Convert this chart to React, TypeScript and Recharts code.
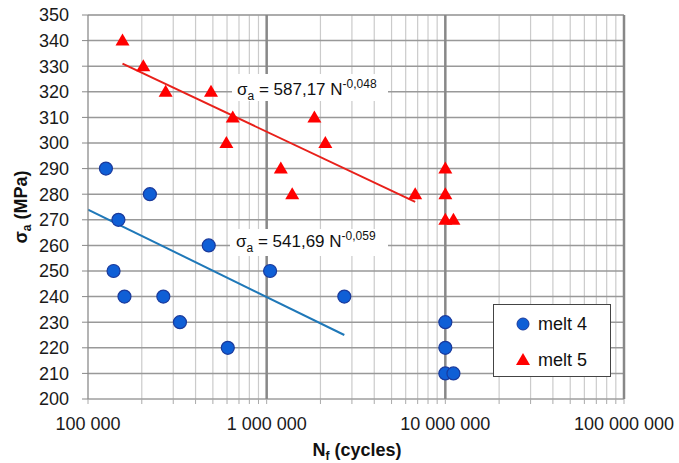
import { ComposedChart, Scatter, Line, XAxis, YAxis, ReferenceLine, CartesianGrid } from 'recharts';

// melt 4 (circles)
const melt4N = [126000, 148000, 222000, 139000, 160000, 264000, 327000, 474000, 606000, 1045000, 2720000, 10000000, 10000000, 10000000, 11100000];
const melt4S = [290, 270, 280, 250, 240, 240, 230, 260, 220, 250, 240, 230, 220, 210, 210];

// melt 5 (triangles)
const melt5N = [156000, 204000, 272000, 488000, 646000, 595000, 1200000, 1390000, 1850000, 2130000, 6780000, 10000000, 10000000, 10000000, 11100000];
const melt5S = [340, 330, 320, 320, 310, 300, 290, 280, 310, 300, 280, 290, 280, 270, 270];

// power-law trend lines (end points)
const trend4N = [100000, 2720000];
const trend4S = [274, 225];
const trend5N = [156000, 6780000];
const trend5S = [331, 277];

const xDecades = [100000, 1000000, 10000000, 100000000];
const xMinor = [2, 3, 4, 5, 6, 7, 8, 9].flatMap((k) => [k * 1e5, k * 1e6, k * 1e7]);
const yMajor = [200, 210, 220, 230, 240, 250, 260, 270, 280, 290, 300, 310, 320, 330, 340, 350];
const yFine = Array.from({ length: 76 }, (_, i) => 200 + i * 2);

const zip = (n: number[], s: number[]) => n.map((v, i) => ({ n: v, s: s[i] }));
const melt4 = zip(melt4N, melt4S);
const melt5 = zip(melt5N, melt5S);
const trend4 = zip(trend4N, trend4S);
const trend5 = zip(trend5N, trend5S);

const BLUE = '#0f5fd6';
const BLUE_EDGE = '#1a3a9c';
const RED = '#ff0000';
const FONT = 'Arial, "Liberation Sans", sans-serif';

const fmt = (v: number) => (xDecades.includes(v) ? String(v).replace(/\B(?=(\d{3})+(?!\d))/g, ' ') : '');

const Circle = (p: any) => <circle cx={p.cx} cy={p.cy} r={6.5} fill={BLUE} stroke={BLUE_EDGE} strokeWidth={1.2} />;
const Tri = (p: any) => (
  <polygon points={`${p.cx},${p.cy - 7} ${p.cx + 7},${p.cy + 5} ${p.cx - 7},${p.cy + 5}`} fill={RED} />
);

const LegendBox = () => (
  <div style={{ position: 'absolute', left: 493, top: 304, border: '1.5px solid #444', background: '#fff', width: 118, height: 73, boxSizing: 'border-box', fontFamily: FONT, fontSize: 18, color: '#111' }}>
    <div style={{ display: 'flex', alignItems: 'center', height: 36, marginTop: 1 }}>
      <svg width={44} height={20}><circle cx={29} cy={10} r={6} fill={BLUE} stroke={BLUE_EDGE} /></svg>
      <span>melt 4</span>
    </div>
    <div style={{ display: 'flex', alignItems: 'center', height: 36 }}>
      <svg width={44} height={20}><polygon points="29,3 36,15 22,15" fill={RED} /></svg>
      <span>melt 5</span>
    </div>
  </div>
);

export default function App() {
  return (
    <div style={{ position: 'absolute', left: 0, top: 0, width: 679, height: 463, background: '#fff', fontFamily: FONT }}>
      <ComposedChart width={679} height={463} margin={{ top: 15, right: 55, left: 0, bottom: 0 }}>
        <XAxis dataKey="n" type="number" scale="log" domain={[100000, 100000000]} allowDataOverflow
          ticks={[...xDecades, ...xMinor]} tickFormatter={fmt} interval={0} height={64}
          tickSize={5} tickMargin={13} axisLine={{ stroke: '#888' }} tickLine={{ stroke: '#aaa' }}
          tick={{ fontSize: 18, fill: '#1a1a1a', fontFamily: FONT }} />
        <YAxis dataKey="s" type="number" domain={[200, 350]} ticks={yMajor} interval={0} width={88}
          tickSize={6} tickMargin={13} axisLine={{ stroke: '#888' }} tickLine={{ stroke: '#888' }}
          tick={{ fontSize: 18, fill: '#1a1a1a', fontFamily: FONT }} />
        <YAxis yAxisId="fine" type="number" domain={[200, 350]} ticks={yFine} interval={0} hide />
        <CartesianGrid yAxisId="fine" stroke="#cbcbcb" strokeWidth={1.2} />
        {yMajor.slice(1).map((v) => <ReferenceLine key={'yM' + v} y={v} stroke="#999" strokeWidth={1.5} />)}
        {xDecades.slice(1).map((v) => <ReferenceLine key={'xM' + v} x={v} stroke="#888" strokeWidth={2.5} />)}
        <Line data={trend5} dataKey="s" stroke="#e8201a" strokeWidth={2} dot={false} isAnimationActive={false} legendType="none" />
        <Line data={trend4} dataKey="s" stroke="#1f78b8" strokeWidth={2} dot={false} isAnimationActive={false} legendType="none" />
        <Scatter name="melt 4" data={melt4} dataKey="s" shape={Circle} isAnimationActive={false} />
        <Scatter name="melt 5" data={melt5} dataKey="s" shape={Tri} isAnimationActive={false} />
      </ComposedChart>
      <LegendBox />
      <svg width={679} height={463} style={{ position: 'absolute', left: 0, top: 0, pointerEvents: 'none' }}>
        <rect x={232} y={74} width={156} height={27} fill="#fff" />
        <text x={237} y={95} fontSize={17} fill="#111" fontFamily={FONT}>
          σ<tspan fontSize={12} dy={5}>a</tspan><tspan dy={-5}> = 587,17 N</tspan><tspan fontSize={12} dy={-7}>-0,048</tspan>
        </text>
        <rect x={230} y={229} width={158} height={27} fill="#fff" />
        <text x={236} y={247} fontSize={17} fill="#111" fontFamily={FONT}>
          σ<tspan fontSize={12} dy={5}>a</tspan><tspan dy={-5}> = 541,69 N</tspan><tspan fontSize={12} dy={-7}>-0,059</tspan>
        </text>
        <text x={357} y={456} fontSize={18} fontWeight="bold" fill="#111" textAnchor="middle" fontFamily={FONT}>
          N<tspan fontSize={12} dy={4}>f</tspan><tspan dy={-4}> (cycles)</tspan>
        </text>
        <text transform="translate(27,207) rotate(-90)" fontSize={18} fontWeight="bold" fill="#111" textAnchor="middle" fontFamily={FONT}>
          σ<tspan fontSize={12} dy={4}>a</tspan><tspan dy={-4}> (MPa)</tspan>
        </text>
      </svg>
    </div>
  );
}
